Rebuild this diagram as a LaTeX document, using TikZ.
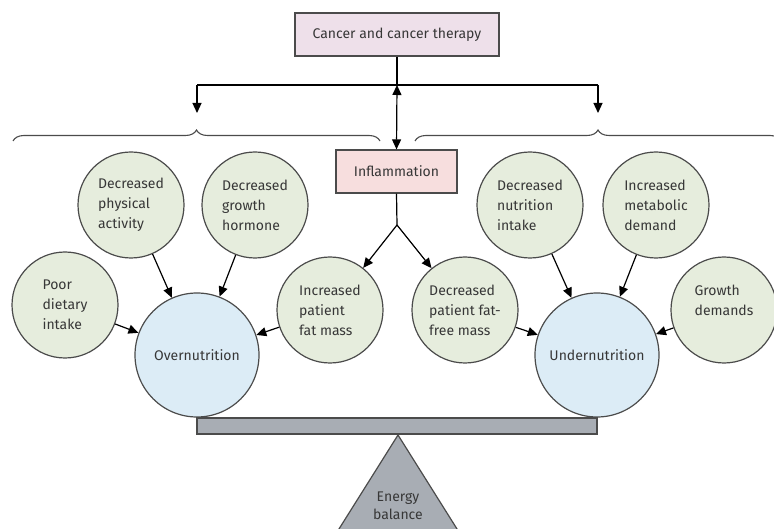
\documentclass[tikz,border=0pt]{standalone}
\usepackage{fontspec}
\setmainfont{Fira Sans}
\usetikzlibrary{arrows.meta,decorations.pathreplacing}

\definecolor{cancerpink}{RGB}{238,224,234}
\definecolor{inflampink}{RGB}{247,222,222}
\definecolor{factorgreen}{RGB}{230,237,221}
\definecolor{outcomeblue}{RGB}{220,236,246}
\definecolor{beamgray}{RGB}{168,173,180}
\definecolor{linegray}{RGB}{75,75,75}
\definecolor{textgray}{RGB}{55,55,55}

\begin{document}
\begin{tikzpicture}[x=1pt, y=-1pt,
  factor/.style={circle, draw=linegray, fill=factorgreen, line width=1.2pt, minimum size=106pt,
    inner sep=0pt, align=left, text=textgray, font={\fontsize{14}{20}\selectfont}},
  outcome/.style={circle, draw=linegray, fill=outcomeblue, line width=1.2pt, minimum size=124pt,
    inner sep=0pt, text=textgray, font={\fontsize{14}{20}\selectfont}},
  titlebox/.style={draw=linegray, line width=1.2pt, minimum height=43pt, text=textgray,
    font={\fontsize{14}{16}\selectfont}},
  arr/.style={-{Triangle[length=10pt,width=9pt]}, line width=1.2pt},
  dblarr/.style={{Triangle[length=10pt,width=9pt]}-{Triangle[length=10pt,width=9pt]}, line width=1.2pt}]

\useasboundingbox (0,0) rectangle (774,529);

\node [titlebox, fill=cancerpink, minimum width=204pt] (cancer) at (397,34.5) {Cancer and cancer therapy};

\node [titlebox, fill=inflampink, minimum width=121pt] (infl) at (396.5,171.5) {Inflammation};

\coordinate (topjoin) at (397,85);
\coordinate (leftdrop) at (197,85);
\coordinate (rightdrop) at (598,85);
\coordinate (leftend) at (197,113);
\coordinate (rightend) at (598,113);
\coordinate (fork) at (397,225);

\draw [line width=1.2pt] (cancer.south) -- (topjoin);
\draw [line width=1.2pt] (leftdrop) -- (rightdrop);
\draw [arr] (leftdrop) -- (leftend);
\draw [arr] (rightdrop) -- (rightend);
\draw [dblarr] (topjoin) -- (infl.north);

\draw [decorate, decoration={brace, amplitude=11pt}, line width=1.1pt, draw=linegray] (13,141) -- (380,141);
\draw [decorate, decoration={brace, amplitude=11pt}, line width=1.1pt, draw=linegray] (415,141) -- (781,141);

\node [factor] (poor) at (65,305) {Poor\\dietary\\intake};
\node [factor] (physical) at (131,205) {Decreased\\physical\\activity};
\node [factor] (hormone) at (255,205) {Decreased\\growth\\hormone};
\node [factor] (fatmass) at (330,310) {Increased\\patient\\fat mass};

\node [factor] (fatfree) at (465,310) {Decreased\\patient fat-\\free mass};
\node [factor] (intake) at (530,205) {Decreased\\nutrition\\intake};
\node [factor] (metabolic) at (656,205) {Increased\\metabolic\\demand};
\node [factor] (growth) at (724,310) {Growth\\demands\\\mbox{}};

\node [outcome] (over) at (197,355) {Overnutrition};
\node [outcome] (under) at (597,355) {Undernutrition};

\draw [line width=1.2pt] (infl.south) -- (fork);
\draw [arr] (fork) -- (fatmass);
\draw [arr] (fork) -- (fatfree);

\draw [arr] (poor) -- (over);
\draw [arr] (physical) -- (over);
\draw [arr] (hormone) -- (over);
\draw [arr] (fatmass) -- (over);

\draw [arr] (fatfree) -- (under);
\draw [arr] (intake) -- (under);
\draw [arr] (metabolic) -- (under);
\draw [arr] (growth) -- (under);

\draw [fill=beamgray, draw=linegray, line width=1.2pt] (197,418) rectangle (597,434);

\begin{scope}
\clip (0,0) rectangle (774,529);
\draw [fill=beamgray, draw=linegray, line width=1.2pt] (398,435) -- (319.5,560) -- (476.5,560) -- cycle;
\end{scope}

\node [align=center, text=textgray, font={\fontsize{14}{18}\selectfont}] (energy) at (398,506) {Energy\\balance};

\end{tikzpicture}
\end{document}
